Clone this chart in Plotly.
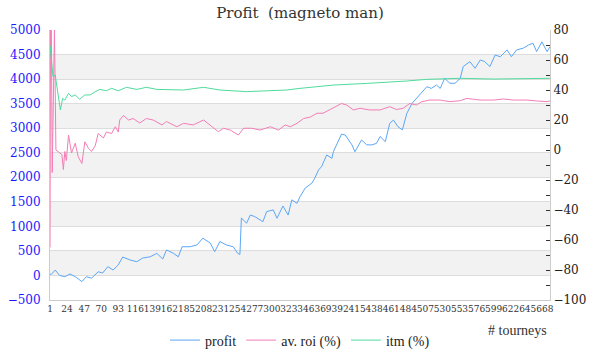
import plotly.graph_objects as go

# tourney index / value pairs
profit_t = [1, 3, 8, 14, 21, 28, 35, 44, 50, 57, 66, 72, 79, 86, 93, 99, 109, 118, 126, 136,
            145, 153, 158, 167, 174, 179, 190, 199, 207, 217, 223, 230, 239, 248, 254, 257,
            259, 266, 271, 277, 288, 293, 302, 307, 315, 322, 327, 334, 338, 345, 354, 358,
            363, 367, 374, 381, 383, 394, 399, 408, 412, 421, 428, 435, 441, 446, 453, 459,
            464, 470, 476, 482, 489, 495, 502, 509, 515, 522, 527, 533, 540, 547, 554, 558,
            567, 574, 581, 587, 594, 601, 608, 617, 623, 630, 639, 646, 652, 657, 664, 671, 675]
profit_v = [25, 25, 110, 0, -25, 30, -25, -125, -25, -55, 75, 50, 180, 110, 215, 375, 315, 280, 355, 380,
            450, 335, 520, 455, 380, 585, 585, 620, 760, 660, 485, 690, 620, 585, 450, 430,
            1170, 1065, 1230, 1200, 1095, 1300, 1335, 1165, 1415, 1230, 1540, 1470, 1605, 1780, 1880, 1985,
            2150, 2215, 2455, 2385, 2520, 2880, 2860, 2660, 2520, 2760, 2660, 2660, 2690, 2830, 2725, 3100,
            3165, 3030, 2965, 3300, 3505, 3610, 3745, 3845, 3810, 3880, 3810, 4015, 3915, 3915, 4015, 4255,
            4355, 4220, 4390, 4355, 4255, 4490, 4455, 4595, 4455, 4595, 4630, 4695, 4730, 4560, 4760, 4560, 4660]

roi_t = [1, 2, 4, 7, 9, 17, 19, 21, 23, 26, 30, 35, 39, 44, 48, 53, 57, 62, 66, 73, 77, 84, 89, 93, 95,
         100, 107, 113, 122, 131, 140, 152, 158, 163, 172, 181, 194, 208, 217, 228, 235, 244, 255,
         262, 273, 284, 298, 309, 318, 325, 334, 343, 352, 361, 369, 378, 387, 394, 401, 410, 419,
         432, 446, 459, 468, 477, 486, 495, 502, 513, 527, 540, 554, 563, 572, 581, 599, 612, 626,
         644, 657, 671, 675]
roi_v = [-65, 150, -15, 81, 0, -3, -13, -1, -7, 10, -2, 4.5, -4.5, -9, 5.5, 1, -1, 3, 11, 8, 12, 11, 15.5, 12, 20,
         23, 20, 21, 18, 21, 20, 16.7, 19, 17.8, 15.5, 17.8, 16.7, 20, 16.7, 12.2, 14.5, 13.3, 10,
         14.5, 14.5, 13.3, 15.5, 13.3, 16.7, 15.5, 17.8, 21, 22, 24.5, 24.5, 26.7, 28.9, 31, 30, 26.7, 27.8,
         26.7, 26.7, 28.9, 27, 27.8, 31, 30, 32.2, 33.3, 33.3, 32.2, 32.9, 34.4, 33.8, 33.3, 33.3, 34, 33.3,
         33.3, 32.7, 32.2, 32.7]

itm_t = [1, 5, 8, 12, 15, 18, 21, 26, 30, 35, 41, 48, 55, 62, 68, 77, 84, 93, 104, 118, 131, 145,
         160, 181, 208, 230, 266, 293, 320, 338, 383, 428, 457, 482, 509, 554, 599, 675]
itm_v = [70, 49, 50, 35.6, 26.7, 34.4, 33.3, 37.8, 35.6, 36.7, 33.8, 36.7, 36.7, 38.9, 40.4, 39.5, 41.1,
         39.5, 41.8, 40.4, 41.8, 40.4, 40.4, 40, 41.8, 40, 38.9, 39.5, 40, 41.1, 43.3, 44.4, 45.1, 46,
         47.1, 47.8, 47.3, 47.8]

x_ticks = list(range(1, 669, 23))
x_ticklabels = [str(v) for v in x_ticks]

FONT = "DejaVu Serif, serif"
LFONT = "Liberation Serif, Times New Roman, serif"

fig = go.Figure()
fig.add_trace(go.Scatter(x=profit_t, y=profit_v, name="profit", mode="lines",
                         line=dict(color="#5ba7f7", width=1), yaxis="y"))
fig.add_trace(go.Scatter(x=roi_t, y=roi_v, name="av. roi (%)", mode="lines",
                         line=dict(color="#f27eb5", width=1), yaxis="y2"))
fig.add_trace(go.Scatter(x=itm_t, y=itm_v, name="itm (%)", mode="lines",
                         line=dict(color="#4fdb9c", width=1), yaxis="y2"))

# alternating background bands on the left axis
for lo in range(0, 5000, 1000):
    fig.add_shape(type="rect", xref="paper", yref="y", x0=0, x1=1, y0=lo, y1=lo + 500,
                  fillcolor="#f2f2f2", line_width=0, layer="below")

fig.update_layout(
    width=600, height=360,
    margin=dict(l=50, r=50, t=30, b=60, autoexpand=False),
    paper_bgcolor="white", plot_bgcolor="white",
    font=dict(family=FONT, color="#333333", size=12),
    title=dict(text="Profit  (magneto man)", x=0.5, xanchor="center", y=0.965, yanchor="middle",
               font=dict(family=FONT, size=15, color="#333333")),
    showlegend=True,
    legend=dict(orientation="h", x=0.5, xanchor="center", y=-0.15, yanchor="middle",
                itemwidth=30, font=dict(family=LFONT, size=14, color="#222222"),
                bgcolor="rgba(0,0,0,0)"),
    xaxis=dict(range=[1, 675], tickmode="array", tickvals=x_ticks, ticktext=x_ticklabels,
               tickangle=0, showgrid=False, zeroline=False, showline=True, linecolor="#cccccc",
               linewidth=1, ticks="", tickfont=dict(family=FONT, size=9, color="#333333")),
    yaxis=dict(range=[-500, 5000], dtick=500, tick0=0, showgrid=True, gridcolor="#dddddd",
               zeroline=False, showline=True, linecolor="#cccccc", mirror=False,
               ticklabelstandoff=6,
               tickfont=dict(family=FONT, size=12, color="#1a1aff"), ticks=""),
    yaxis2=dict(range=[-100, 80], dtick=20, tick0=0, overlaying="y", side="right",
                showgrid=False, zeroline=False, showline=True, linecolor="#cccccc",
                ticks="inside", ticklen=4, tickcolor="#333333",
                minor=dict(dtick=10, ticks="inside", ticklen=4, tickcolor="#333333", showgrid=False),
                tickfont=dict(family=FONT, size=12, color="#222222")),
    annotations=[dict(text="# tourneys", xref="paper", yref="paper", x=0.997, y=-0.112,
                      xanchor="right", yanchor="middle", showarrow=False,
                      font=dict(family=LFONT, size=14, color="#333333"))],
)

fig.write_html("out.html", config={"displayModeBar": False},
               post_script="document.body.style.margin='0';document.body.style.overflow='hidden';")
